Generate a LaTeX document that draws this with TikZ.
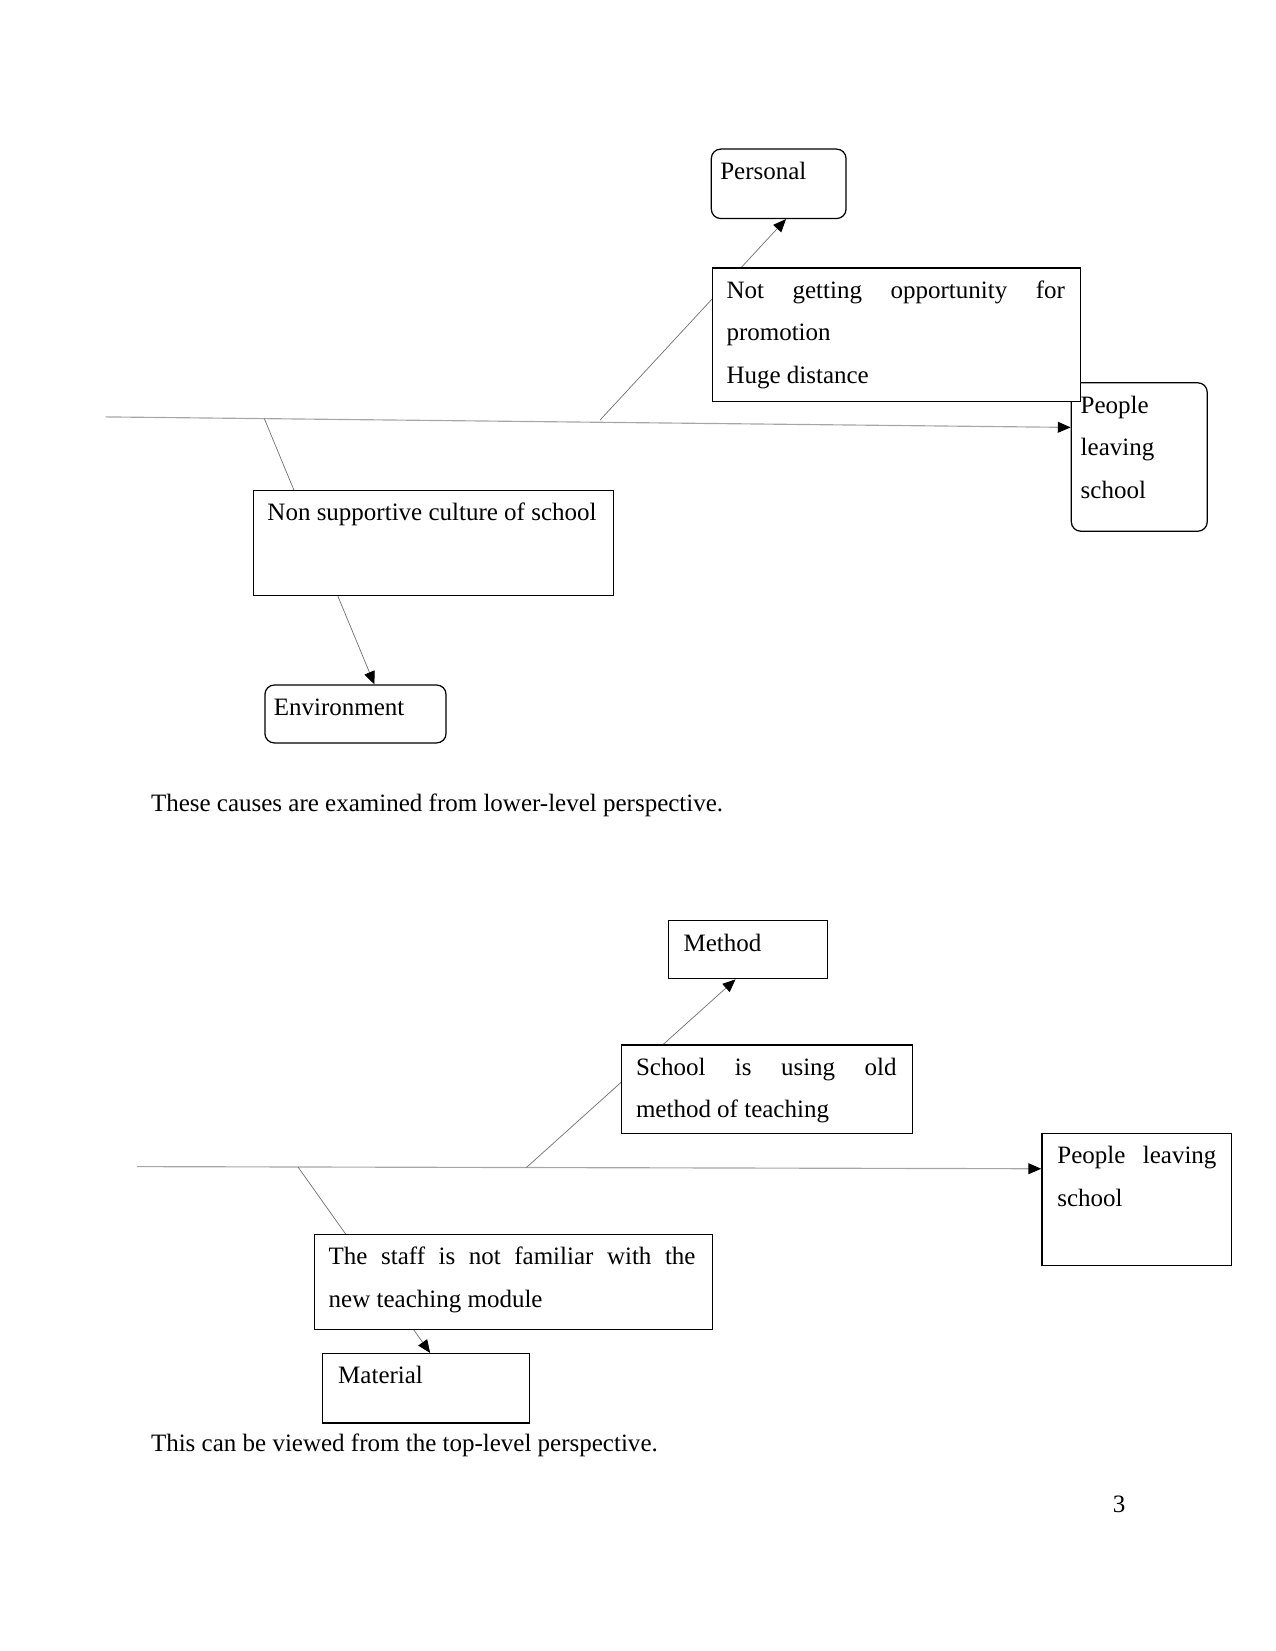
\documentclass[tikz,border=0pt]{standalone}
\usepackage{fontspec}
\setmainfont{Liberation Serif}
\usetikzlibrary{arrows.meta}
\pgfdeclarelayer{background}
\pgfsetlayers{background,main}
\newcommand\boxfont{\fontsize{12pt}{20.5pt}\selectfont}
% #1 left pad, #2 right pad, #3 total width, #4 height, #5 text
\newcommand\bx[5]{\hspace*{#1}\parbox[t][#4][t]{\dimexpr #3-#1-#2\relax}{\boxfont\rule{0pt}{14.5pt}#5}\hspace*{#2}}
\newcommand\spread[1]{\makebox[\linewidth][s]{#1}}
\begin{document}
\begin{tikzpicture}[x=0.48pt,y=-0.48pt,
  box/.style={draw=black, line width=0.6pt, fill=white, inner sep=0pt, anchor=north west},
  rbox/.style={box, rounded corners=4.5pt},
  tiparrow/.style={-{Triangle[length=6.2pt,width=5.2pt,color=black,fill=black]}},
  spine/.style={draw=black!35, line width=0.55pt, tiparrow},
  branch/.style={draw=black!55, line width=0.35pt, tiparrow},
  captext/.style={anchor=base west, inner sep=0pt, font=\fontsize{12pt}{14pt}\selectfont}]
\useasboundingbox (0,0) rectangle (1275,1651);
% ---------- top diagram ----------
\node[rbox] (personal) at (710.7,148.5) {\bx{4.3pt}{4.5pt}{64.66pt}{33.31pt}{Personal}};
\node[rbox] (ppl1) at (1070.7,382.2) {\bx{4.5pt}{4.8pt}{65.23pt}{71.23pt}{\rule{0pt}{1pt}People\\leaving\\school}};
\node[box] (notget) at (711.7,267.4) {\bx{6.8pt}{7.6pt}{176.88pt}{64.18pt}{\spread{Not getting opportunity for}\\promotion\\Huge distance}};
\node[box] (ns) at (252.7,489.6) {\bx{6.8pt}{7.06pt}{172.85pt}{50.54pt}{Non supportive culture of school}};
\node[rbox] (env) at (264.3,684.4) {\bx{4.3pt}{4.5pt}{86.93pt}{27.79pt}{Environment}};
\coordinate (s1) at (105.3,416.9);
\coordinate (b1u) at (600.1,420.0);
\coordinate (b1d) at (264.3,418.6);
\node[captext] (cap1) at (150.6,811.5) {These causes are examined from lower-level perspective.};
% ---------- bottom diagram ----------
\node[box] (method) at (667.5,920.2) {\bx{7.4pt}{7.6pt}{76.32pt}{27.79pt}{Method}};
\node[box] (school) at (621.2,1044.4) {\bx{6.8pt}{7.6pt}{139.49pt}{42.48pt}{\spread{School is using old}\\method of teaching}};
\node[box] (ppl2) at (1041.3,1132.9) {\bx{7.4pt}{7.2pt}{90.96pt}{63.17pt}{\spread{People leaving}\\school}};
\node[box] (staff) at (313.7,1233.9) {\bx{6.9pt}{8.06pt}{191.04pt}{45.5pt}{\spread{The staff is not familiar with the}\\new teaching module}};
\node[box] (material) at (322.2,1352.9) {\bx{7.4pt}{7.6pt}{99.02pt}{33.36pt}{Material}};
\coordinate (s2) at (136.9,1166.6);
\coordinate (b2u) at (526.4,1167.5);
\coordinate (b2d) at (298.0,1167.0);
\node[captext] (cap2) at (150.6,1451.5) {This can be viewed from the top-level perspective.};
\node[anchor=base, inner sep=0pt, font=\fontsize{12pt}{14pt}\selectfont] (pnum) at (1119.2,1512) {3};
% ---------- connectors ----------
\begin{pgfonlayer}{background}
\draw[spine] (s1) -- ([yshift=-21.7pt]ppl1.north west);
\draw[branch] (b1u) -- ([xshift=3.5pt]personal.south);
\draw[branch] (b1d) -- ([xshift=9.1pt]env.north);
\draw[spine] (s2) -- ([yshift=-17.2pt]ppl2.north west);
\draw[branch] (b2u) -- ([xshift=-5.8pt]method.south);
\draw[branch] (b2d) -- ([xshift=2pt]material.north);
\end{pgfonlayer}
\end{tikzpicture}
\end{document}
